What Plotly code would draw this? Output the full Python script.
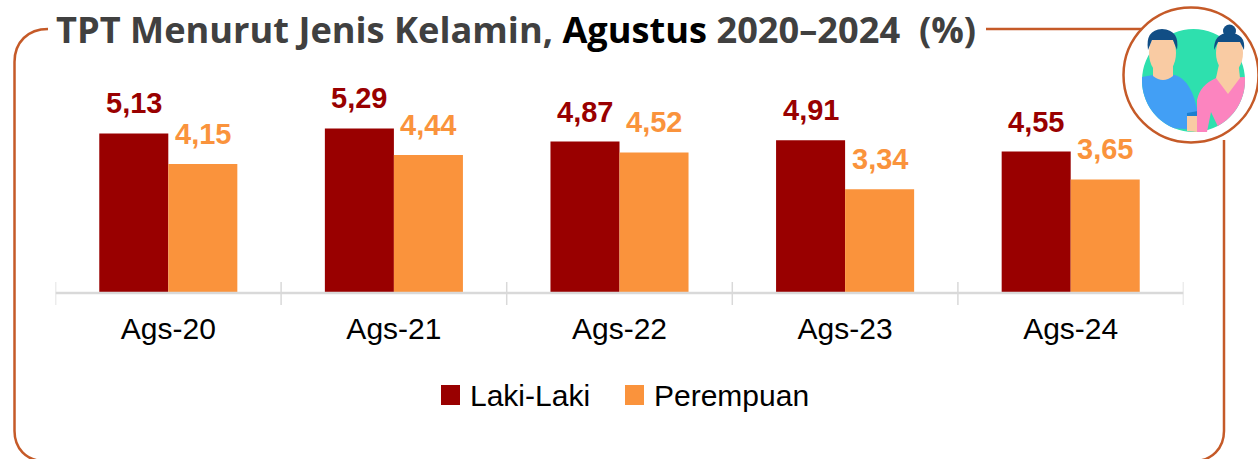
import math
import plotly.graph_objects as go

W, H = 1258, 459
categories = ["Ags-20", "Ags-21", "Ags-22", "Ags-23", "Ags-24"]
laki = [5.13, 5.29, 4.87, 4.91, 4.55]
perempuan = [4.15, 4.44, 4.52, 3.34, 3.65]
RED, ORANGE, FRAME = "#990000", "#FA933C", "#C55A28"
SANS = "Liberation Sans"


def px(x):
    return x / W


def py(y):
    return 1 - y / H


def path(*items):
    out = []
    for it in items:
        if isinstance(it, str):
            out.append(it)
        else:
            out.append(f"{px(it[0]):.5f},{py(it[1]):.5f}")
    return " ".join(out)


def fmt(v):
    return f"{v:.2f}".replace(".", ",")


def paper(**k):
    return dict(xref="paper", yref="paper", **k)


def arc(cx, cy, r, a0, a1, n=16):
    pts = []
    for i in range(n + 1):
        a = math.radians(a0 + (a1 - a0) * i / n)
        pts += ["L", (cx + r * math.cos(a), cy + r * math.sin(a))]
    return pts


fig = go.Figure()
annotations = []
for name, vals, col, dx in (("Laki-Laki", laki, RED, -34.5), ("Perempuan", perempuan, ORANGE, 34.5)):
    fig.add_bar(x=categories, y=vals, name=name, marker_color=col, marker_line_width=0)
    for c, v in zip(categories, vals):
        annotations.append(dict(xref="x", yref="y", x=c, y=v, xshift=dx, yshift=12, yanchor="bottom",
                                showarrow=False, text=f"<b>{fmt(v)}</b>",
                                font=dict(family=SANS, size=29, color=col)))

shapes = []
# frame
shapes.append(paper(type="path", line=dict(color=FRAME, width=2.5), path=path(
    "M", (48, 29), "C", (28, 29), (14.5, 42), (14.5, 62), "L", (14.5, 431),
    "C", (14.5, 448), (26, 461), (44, 461),
    "L", (1194, 461), "C", (1212, 461), (1224, 448), (1224, 431), "L", (1224, 140))))
shapes.append(paper(type="line", x0=px(986), x1=px(1142), y0=py(29), y1=py(29), line=dict(color=FRAME, width=2.5)))
# axis line and crossing ticks
shapes.append(dict(type="line", xref="x", yref="paper", x0=-0.5, x1=4.5, y0=py(293), y1=py(293),
                   line=dict(color="#D9D9D9", width=2.5)))
for i in range(6):
    shapes.append(dict(type="line", xref="x", yref="paper", x0=i - 0.5, x1=i - 0.5, y0=py(282), y1=py(305),
                       line=dict(color="#D9D9D9", width=1.5)))
# legend swatches
shapes.append(paper(type="rect", x0=px(441), x1=px(460), y0=py(385), y1=py(405), fillcolor=RED, line_width=0))
shapes.append(paper(type="rect", x0=px(625), x1=px(644), y0=py(385), y1=py(405), fillcolor=ORANGE, line_width=0))


def circle(cx, cy, r, fill, line=None, rx=None):
    rx = r if rx is None else rx
    return paper(type="circle", x0=px(cx - rx), x1=px(cx + rx), y0=py(cy - r), y1=py(cy + r),
                 fillcolor=fill, line=dict(color=line or fill, width=2.5 if line else 0))


# icon
GC = (1193.5, 80.5, 51.5)
SKIN, HAIR = "#F9CBA3", "#114E85"
shapes.append(circle(1191, 75, 67.5, "white", FRAME))
shapes.append(circle(GC[0], GC[1], GC[2], "#2EE0AE"))
# man
shapes.append(paper(type="path", fillcolor="#429FF5", line_width=0, path=path(
    "M", (1142, 77), "L", (1153, 75), "L", (1175, 75), "Q", (1192, 80), (1198, 114), "L", (1198, 131),
    "L", (1185, 129), *arc(*GC, 112, 178), "Z")))
shapes.append(paper(type="path", fillcolor="#1C7FD0", line_width=0, path=path(
    "M", (1187, 113), "L", (1198, 111), "L", (1198, 116), "L", (1187, 116), "Z")))
shapes.append(paper(type="path", fillcolor=SKIN, line_width=0, path=path(
    "M", (1187, 116), "L", (1197, 116), "L", (1197, 132), "L", (1187, 131), "Z")))
shapes.append(paper(type="path", fillcolor=SKIN, line_width=0, path=path(
    "M", (1153, 62), "L", (1173, 62), "L", (1173, 76), "Q", (1163, 84), (1153, 76), "Z")))
shapes.append(circle(1162.5, 53, 21, SKIN, rx=13.5))
shapes.append(paper(type="path", fillcolor=HAIR, line_width=0, path=path(
    "M", (1148, 50), "Q", (1145, 30), (1162, 29), "Q", (1180, 30), (1177, 50), "L", (1173, 40),
    "L", (1152, 40), "Z")))
# woman
shapes.append(paper(type="path", fillcolor="#FC84BF", line_width=0, path=path(
    "M", (1197, 100), "Q", (1200, 85), (1216, 78), "L", (1245, 77), *arc(*GC, 0, 62), "L", (1211, 112),
    "L", (1207, 132), "L", (1197, 132), "Z")))
shapes.append(paper(type="path", fillcolor=SKIN, line_width=0, path=path(
    "M", (1220, 60), "L", (1238, 60), "L", (1240, 78), "L", (1228, 94), "L", (1216, 78), "Z")))
shapes.append(circle(1229.5, 53, 20, SKIN, rx=13.5))
shapes.append(paper(type="path", fillcolor=HAIR, line_width=0, path=path(
    "M", (1214, 50), "Q", (1214, 33), (1229, 33), "Q", (1246, 33), (1244, 50), "L", (1240, 42),
    "L", (1218, 42), "Z")))
shapes.append(circle(1229.5, 31, 6.5, HAIR))

annotations += [
    paper(x=px(54), y=py(29), xanchor="left", yanchor="middle", showarrow=False,
          text=("<b><span style='color:#404040'>TPT Menurut Jenis Kelamin, </span>"
                "<span style='color:#000000'>Agustus</span>"
                "<span style='color:#404040'> 2020–2024\u00a0\u00a0(%)</span></b>"),
          font=dict(family="Open Sans", size=36.2)),
    paper(x=px(468), y=py(395), xanchor="left", yanchor="middle", showarrow=False, text="Laki-Laki",
          font=dict(family=SANS, size=30, color="#000000")),
    paper(x=px(652), y=py(395), xanchor="left", yanchor="middle", showarrow=False, text="Perempuan",
          font=dict(family=SANS, size=30, color="#000000")),
]

fig.update_layout(
    width=W, height=H, margin=dict(l=0, r=0, t=0, b=0), paper_bgcolor="white", plot_bgcolor="white",
    barmode="group", bargap=0.388, bargroupgap=0, showlegend=False,
    shapes=shapes, annotations=annotations,
    xaxis=dict(domain=[px(55.5), px(1183.5)], type="category", range=[-0.5, 4.5], showline=False, ticks="",
               showgrid=False, zeroline=False, ticklabelstandoff=15,
               tickfont=dict(family=SANS, size=30, color="#000000"), anchor="y"),
    yaxis=dict(domain=[py(293), py(0)], range=[0, 293 / 31.1], visible=False, showgrid=False, zeroline=False),
)
fig.write_html("out.html", config=dict(displayModeBar=False),
               post_script="document.body.style.margin='0';")
